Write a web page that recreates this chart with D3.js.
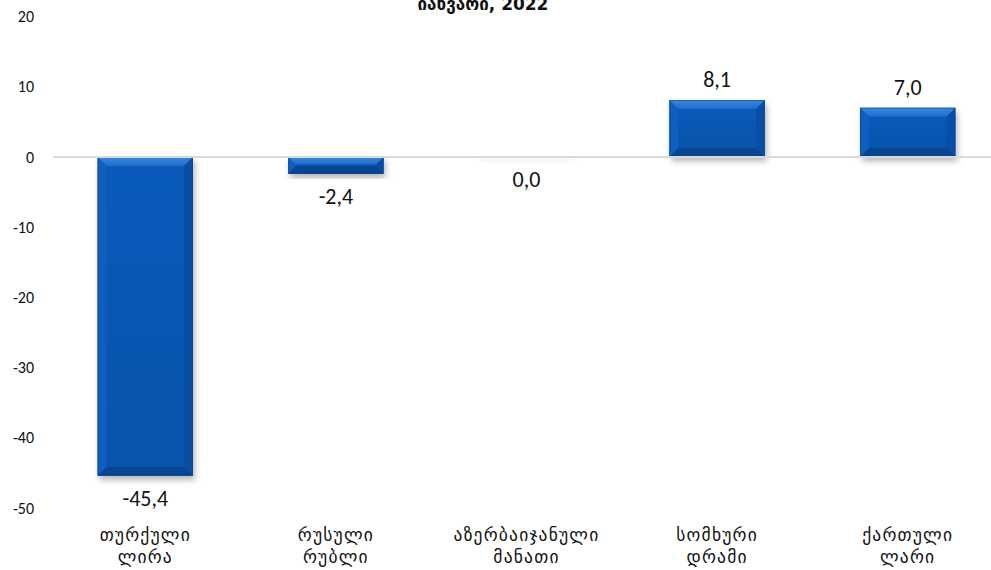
<!DOCTYPE html>
<html>
<head>
<meta charset="utf-8">
<script src="https://cdn.jsdelivr.net/npm/d3@7/dist/d3.min.js"></script>
<style>
  html, body { margin: 0; padding: 0; background: #fff; }
  svg { display: block; font-family: Carlito, Calibri, "Open Sans", "DejaVu Sans", sans-serif; }
</style>
</head>
<body>
<svg id="chart" width="991" height="570"></svg>
<script>
// Change of currency value, January 2022 (%)
const title = "იანვარი, 2022";
const categories = [
  ["თურქული", "ლირა"],
  ["რუსული", "რუბლი"],
  ["აზერბაიჯანული", "მანათი"],
  ["სომხური", "დრამი"],
  ["ქართული", "ლარი"]
];
const values = [-45.4, -2.4, 0.0, 8.1, 7.0];
const yTicks = [20, 10, 0, -10, -20, -30, -40, -50];

const svg = d3.select("#chart");

const x = d3.scaleBand()
  .domain(d3.range(categories.length))
  .range([50, 1003])
  .paddingInner(0.5)
  .paddingOuter(0.25);

const y = d3.scaleLinear().domain([-50, 20]).range([508, 16.5]);

const defs = svg.append("defs");
const shadow = defs.append("filter").attr("id", "shadow")
  .attr("x", "-20%").attr("y", "-20%").attr("width", "150%").attr("height", "150%");
shadow.append("feDropShadow")
  .attr("dx", 2).attr("dy", 4).attr("stdDeviation", 3)
  .attr("flood-color", "#000").attr("flood-opacity", 0.3);

const faceGrad = defs.append("linearGradient").attr("id", "face")
  .attr("x1", 0).attr("y1", 0).attr("x2", 0).attr("y2", 1);
faceGrad.append("stop").attr("offset", "0%").attr("stop-color", "#0a5abb");
faceGrad.append("stop").attr("offset", "100%").attr("stop-color", "#0853ab");

const topGrad = defs.append("linearGradient").attr("id", "bevelTop")
  .attr("x1", 0).attr("y1", 0).attr("x2", 0).attr("y2", 1);
topGrad.append("stop").attr("offset", "0%").attr("stop-color", "#3a88e0");
topGrad.append("stop").attr("offset", "100%").attr("stop-color", "#1e6dcb");

const blur = defs.append("filter").attr("id", "soft");
blur.append("feGaussianBlur").attr("stdDeviation", 3);

// y axis tick labels (no axis line, no tick marks)
const yAxis = d3.axisLeft(y).tickValues(yTicks).tickSize(0).tickPadding(0)
  .tickFormat(d => d < 0 ? "-" + Math.abs(d) : String(d));
const ya = svg.append("g").attr("transform", "translate(34,0)").call(yAxis);
ya.select(".domain").remove();
ya.selectAll("text")
  .attr("font-size", 16).attr("fill", "#111")
  .attr("font-family", "Carlito, Calibri, 'Open Sans', sans-serif");

// bars with bevelled edges
const fmt = v => v.toFixed(1).replace(".", ",");
const bars = svg.append("g");

values.forEach((v, i) => {
  const x0 = x(i), w = x.bandwidth();
  const y0 = Math.min(y(v), y(0)), h = Math.abs(y(v) - y(0));
  const g = bars.append("g");
  if (h < 0.5) {
    // flat bar: only its soft shadow shows under the baseline
    g.append("rect").attr("x", x0).attr("y", y(0) + 1).attr("width", w).attr("height", 4)
      .attr("fill", "#000").attr("opacity", 0.06).attr("filter", "url(#soft)");
    return;
  }
  const b = Math.min(9, h / 2.2);
  g.append("rect").attr("x", x0).attr("y", y0).attr("width", w).attr("height", h)
    .attr("fill", "#0a55ae").attr("filter", "url(#shadow)");
  const x1 = x0 + w, y1 = y0 + h;
  const pts = a => a.map(p => p.join(",")).join(" ");
  g.append("polygon").attr("points", pts([[x0, y0], [x0 + b, y0 + b], [x0 + b, y1 - b], [x0, y1]]))
    .attr("fill", "#0f5fc0");
  g.append("polygon").attr("points", pts([[x1, y0], [x1 - b, y0 + b], [x1 - b, y1 - b], [x1, y1]]))
    .attr("fill", "#084ea2");
  g.append("polygon").attr("points", pts([[x0, y1], [x0 + b, y1 - b], [x1 - b, y1 - b], [x1, y1]]))
    .attr("fill", "#064494");
  g.append("polygon").attr("points", pts([[x0, y0], [x0 + b, y0 + b], [x1 - b, y0 + b], [x1, y0]]))
    .attr("fill", "url(#bevelTop)");
  g.append("rect").attr("x", x0 + b).attr("y", y0 + b)
    .attr("width", Math.max(0, w - 2 * b)).attr("height", Math.max(0, h - 2 * b))
    .attr("fill", "url(#face)");
  g.append("rect").attr("x", x0 + 0.5).attr("y", y0 + 0.5).attr("width", w - 1).attr("height", h - 1)
    .attr("fill", "none").attr("stroke", "#0a3f80").attr("stroke-opacity", 0.5).attr("stroke-width", 1);
});

// zero baseline
svg.append("line")
  .attr("x1", 53).attr("x2", 991).attr("y1", y(0)).attr("y2", y(0))
  .attr("stroke", "#d9d9d9").attr("stroke-width", 2);

// value labels
svg.append("g").selectAll("text").data(values).join("text")
  .attr("x", (d, i) => x(i) + x.bandwidth() / 2)
  .attr("y", d => d > 0 ? y(d) - 13 : y(d) + 30)
  .attr("text-anchor", "middle")
  .attr("font-size", 22).attr("fill", "#111")
  .text(fmt);

// category labels (two lines)
const cat = svg.append("g").selectAll("text").data(categories).join("text")
  .attr("text-anchor", "middle")
  .attr("font-family", "'DejaVu Sans', sans-serif")
  .attr("font-size", 17.5).attr("letter-spacing", 1.2).attr("fill", "#111");
cat.each(function (d, i) {
  const t = d3.select(this);
  d.forEach((line, k) => {
    t.append("tspan")
      .attr("x", x(i) + x.bandwidth() / 2)
      .attr("y", 541 + k * 22)
      .text(line);
  });
});

// title at the top edge
svg.append("text")
  .attr("x", 483).attr("y", 10)
  .attr("text-anchor", "middle")
  .attr("font-family", "'DejaVu Sans', sans-serif")
  .attr("font-weight", "bold").attr("font-size", 17).attr("fill", "#111")
  .text(title);
</script>
</body>
</html>
